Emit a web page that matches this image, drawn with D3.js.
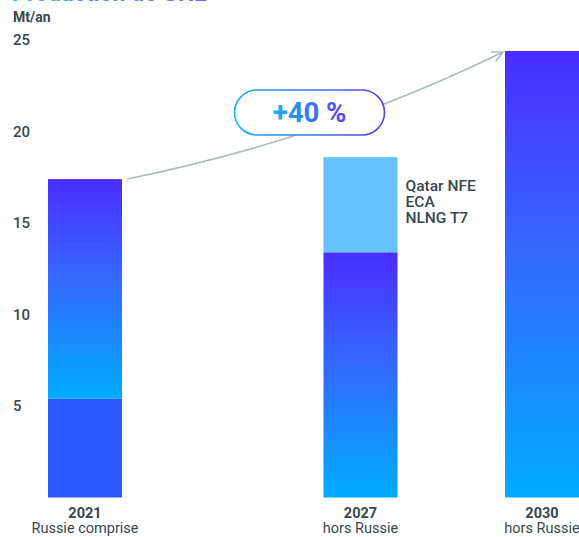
<!DOCTYPE html>
<html>
<head>
<meta charset="utf-8">
<script src="https://cdn.jsdelivr.net/npm/d3@7"></script>
<style>
  body { margin: 0; background: #fff; }
  svg { display: block; font-family: Roboto, "Noto Sans", sans-serif; }
</style>
</head>
<body>
<script>
// data
var years = [2021, 2027, 2030];
var yearLabels = ["2021", "2027", "2030"];
var subLabels = ["Russie comprise", "hors Russie", "hors Russie"];
var baseValues = [5.4, 13.4, 24.4];     // lower segment
var topValues = [12.0, 5.2, 0];         // upper segment
var yTicks = [5, 10, 15, 20, 25];
var projectNames = ["Qatar NFE", "ECA", "NLNG T7"];
var growthLabel = "+40 %";

var W = 579, H = 537;
var textColor = "#37474f";

var svg = d3.select("body").append("svg")
    .attr("width", W)
    .attr("height", H);

var defs = svg.append("defs");

// vertical gradient purple -> cyan
var vg = defs.append("linearGradient")
    .attr("id", "barGrad")
    .attr("x1", 0).attr("y1", 0).attr("x2", 0).attr("y2", 1);
vg.append("stop").attr("offset", "0%").attr("stop-color", "#4a2dff");
vg.append("stop").attr("offset", "45%").attr("stop-color", "#3468ff");
vg.append("stop").attr("offset", "100%").attr("stop-color", "#00acff");

// horizontal gradient for the pill and title
var hg = defs.append("linearGradient")
    .attr("id", "pillGrad")
    .attr("x1", 0).attr("y1", 0).attr("x2", 1).attr("y2", 0);
hg.append("stop").attr("offset", "0%").attr("stop-color", "#14b2fb");
hg.append("stop").attr("offset", "100%").attr("stop-color", "#5a3df2");

var tg = defs.append("linearGradient")
    .attr("id", "titleGrad")
    .attr("x1", 0).attr("y1", 0).attr("x2", 1).attr("y2", 0);
tg.append("stop").attr("offset", "0%").attr("stop-color", "#22b4ff");
tg.append("stop").attr("offset", "100%").attr("stop-color", "#7a5cff");

// scales
var yScale = d3.scaleLinear().domain([0, 25]).range([497.5, 40]);
var xScale = d3.scaleLinear().domain(years).range([85, 360.5, 542]);
var barW = 74;

// title (cut off at the top)
svg.append("text")
    .attr("x", 12)
    .attr("y", 1)
    .style("font-size", "23px")
    .style("font-weight", "bold")
    .attr("fill", "url(#titleGrad)")
    .text("Production de GNL");

// unit label
svg.append("text")
    .attr("x", 13)
    .attr("y", 22)
    .style("font-size", "14px")
    .style("font-weight", "bold")
    .attr("fill", textColor)
    .text("Mt/an");

// y axis labels only
var yAxis = svg.append("g")
    .attr("transform", "translate(13,0)")
    .call(d3.axisLeft(yScale).tickValues(yTicks).tickSize(0).tickPadding(0));
yAxis.select(".domain").remove();
yAxis.selectAll("text")
    .attr("text-anchor", "start")
    .attr("fill", textColor)
    .style("font-size", "15px")
    .style("font-weight", "500")
    .style("font-family", "Roboto, sans-serif");

// lower segments
var baseFills = ["#2b58ff", "url(#barGrad)", "url(#barGrad)"];
var topFills = ["url(#barGrad)", "#66c2ff", "none"];

svg.selectAll(".base")
    .data(years)
    .enter()
    .append("rect")
    .attr("class", "base")
    .attr("x", function(d) { return xScale(d) - barW / 2; })
    .attr("width", barW)
    .attr("y", function(d, i) { return yScale(baseValues[i]); })
    .attr("height", function(d, i) { return yScale(0) - yScale(baseValues[i]); })
    .attr("fill", function(d, i) { return baseFills[i]; });

svg.selectAll(".upper")
    .data(years)
    .enter()
    .filter(function(d, i) { return topValues[i] > 0; })
    .append("rect")
    .attr("class", "upper")
    .attr("x", function(d) { return xScale(d) - barW / 2; })
    .attr("width", barW)
    .attr("y", function(d) {
        var i = years.indexOf(d);
        return yScale(baseValues[i] + topValues[i]);
    })
    .attr("height", function(d) {
        var i = years.indexOf(d);
        return yScale(baseValues[i]) - yScale(baseValues[i] + topValues[i]);
    })
    .attr("fill", function(d) { return topFills[years.indexOf(d)]; });

// x labels
svg.selectAll(".year")
    .data(yearLabels)
    .enter()
    .append("text")
    .attr("x", function(d, i) { return xScale(years[i]); })
    .attr("y", 518)
    .attr("text-anchor", "middle")
    .style("font-size", "14.5px")
    .style("font-weight", "bold")
    .attr("fill", textColor)
    .text(function(d) { return d; });

svg.selectAll(".sub")
    .data(subLabels)
    .enter()
    .append("text")
    .attr("x", function(d, i) { return xScale(years[i]); })
    .attr("y", 533)
    .attr("text-anchor", "middle")
    .style("font-size", "14.5px")
    .attr("fill", textColor)
    .text(function(d) { return d; });

// project names next to 2027 bar
svg.selectAll(".proj")
    .data(projectNames)
    .enter()
    .append("text")
    .attr("x", xScale(2027) + barW / 2 + 8)
    .attr("y", function(d, i) { return 191 + i * 16; })
    .style("font-size", "15.5px")
    .style("font-weight", "500")
    .attr("fill", textColor)
    .text(function(d) { return d; });

// growth arrow from 2021 top to 2030 top
var x0 = xScale(2021) + barW / 2 + 5, y0 = yScale(baseValues[0] + topValues[0]);
var x1 = xScale(2030) - barW / 2 - 2, y1 = yScale(baseValues[2] + topValues[2]) + 1;
var path = d3.path();
path.moveTo(x0, y0);
path.quadraticCurveTo(325, 139, x1, y1);
svg.append("path")
    .attr("d", path.toString())
    .attr("fill", "none")
    .attr("stroke", "#a9bdbf")
    .attr("stroke-width", 1.5);

// arrow head
var ang = Math.atan2(y1 - 139, x1 - 325);
var ah = 12;
svg.append("path")
    .attr("d", "M" + (x1 - ah * Math.cos(ang - 0.45)) + "," + (y1 - ah * Math.sin(ang - 0.45)) +
               "L" + x1 + "," + y1 +
               "L" + (x1 - ah * Math.cos(ang + 0.45)) + "," + (y1 - ah * Math.sin(ang + 0.45)))
    .attr("fill", "none")
    .attr("stroke", "#a9bdbf")
    .attr("stroke-width", 1.5);

// pill
svg.append("rect")
    .attr("x", 234.5)
    .attr("y", 90)
    .attr("width", 150)
    .attr("height", 45)
    .attr("rx", 22.5)
    .attr("fill", "#fff")
    .attr("stroke", "url(#pillGrad)")
    .attr("stroke-width", 1.6);

svg.append("text")
    .attr("x", 309.5)
    .attr("y", 122)
    .attr("text-anchor", "middle")
    .style("font-size", "27.5px")
    .style("font-weight", "bold")
    .attr("fill", "url(#pillGrad)")
    .text(growthLabel);
</script>
</body>
</html>
